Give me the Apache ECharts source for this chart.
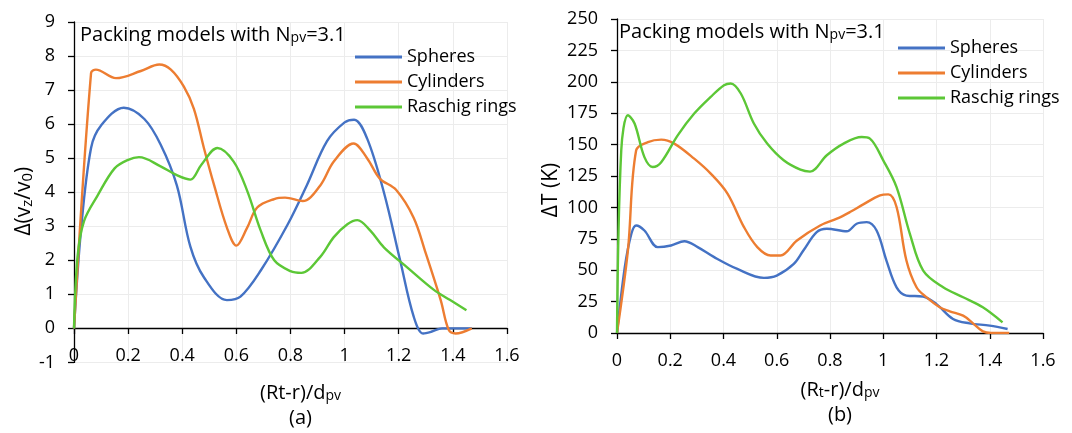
<!DOCTYPE html>
<html>
<head>
<meta charset="utf-8">
<script src="https://cdn.jsdelivr.net/npm/echarts@6/dist/echarts.min.js"></script>
<style>html,body{margin:0;padding:0;background:#fff}#c{width:1072px;height:433px}</style>
</head>
<body>
<div id="c"></div>
<script>
// ---- data: panel (a) Δ(vz/v0) ----
const sphA_x = [0,0.026,0.063,0.1,0.184,0.26,0.32,0.38,0.43,0.48,0.565,0.615,0.69,0.79,0.86,0.935,1.0,1.035,1.083,1.145,1.205,1.255,1.29,1.32,1.36,1.47];
const sphA_y = [0,2.9,5.3,5.96,6.48,6.15,5.4,4.2,2.4,1.5,0.83,0.93,1.7,3.06,4.2,5.5,6.05,6.13,5.58,4.0,2.0,0.35,-0.15,-0.1,0,0];
const cylA_x = [0,0.063,0.081,0.155,0.247,0.315,0.358,0.406,0.443,0.48,0.518,0.565,0.6,0.64,0.677,0.74,0.78,0.845,0.91,0.96,1.033,1.083,1.13,1.19,1.255,1.3,1.355,1.385,1.41,1.47];
const cylA_y = [0,7.5,7.6,7.35,7.56,7.75,7.6,7.1,6.45,5.3,4.2,2.96,2.43,2.96,3.55,3.8,3.84,3.74,4.2,4.9,5.43,5.0,4.4,4.07,3.25,2.2,0.83,-0.05,-0.15,0];
const rasA_x = [0,0.013,0.037,0.087,0.15,0.2,0.24,0.32,0.38,0.43,0.47,0.53,0.59,0.64,0.69,0.74,0.8,0.84,0.91,0.96,1.01,1.047,1.095,1.145,1.23,1.33,1.39,1.45];
const rasA_y = [0,2.1,3.15,3.9,4.7,4.95,5.03,4.76,4.5,4.37,4.8,5.3,4.9,4.04,2.87,2.0,1.68,1.63,2.1,2.68,3.06,3.18,2.87,2.38,1.8,1.13,0.83,0.53];
// ---- data: panel (b) ΔT (K) ----
const sphB_x = [0,0.029,0.054,0.072,0.103,0.153,0.203,0.253,0.303,0.365,0.452,0.552,0.6,0.664,0.7,0.75,0.788,0.863,0.9,0.938,0.975,1.012,1.05,1.087,1.15,1.2,1.262,1.324,1.4,1.467];
const sphB_y = [0,52,79,85.6,81.6,68.4,69.7,73.1,68.4,60.4,51,43.9,45.7,55,65.7,80.3,83,81,87,88.3,81.6,57.7,36.4,29.8,29,23,11.2,7.7,5.9,3.2];
const cylB_x = [0,0.041,0.072,0.116,0.166,0.215,0.29,0.352,0.415,0.477,0.527,0.577,0.614,0.676,0.763,0.826,0.875,0.925,0.988,1.019,1.05,1.087,1.125,1.162,1.212,1.25,1.3,1.337,1.374,1.405,1.473];
const cylB_y = [0,65.7,145.5,152,154,150.8,138.8,126.9,111,84.3,68.4,61.7,61.7,73.7,85.6,91,96.3,102.4,109.6,110.4,100.3,57.7,36.4,28.5,20.5,17.3,13.8,7.7,1.3,0,0];
const rasB_x = [0,0.016,0.041,0.066,0.103,0.134,0.166,0.228,0.29,0.352,0.402,0.427,0.465,0.514,0.564,0.626,0.689,0.725,0.788,0.851,0.919,0.95,1.0,1.05,1.1,1.15,1.225,1.3,1.374,1.448];
const rasB_y = [0,145.5,173.4,166.8,140,132.2,136,157.4,174.7,188,197.3,198.7,190.7,166.8,150.8,137.5,130,128.5,141.5,150.8,156,154.8,137.5,116.2,79,49.7,36.4,28.5,20.5,8.5];

const seriesNames = ['Spheres','Cylinders','Raschig rings'];

const FONT = 'Open Sans';
const COLORS = ['#4472C4','#ED7D31','#5CC736'];
const zip = (xs, ys) => xs.map((x,i) => [x, ys[i]]);

const rich = {
  n: {fontFamily: FONT, fontSize: 20, fontWeight: 'normal', color: '#000', lineHeight: 25, verticalAlign: 'bottom'},
  s: {fontFamily: FONT, fontSize: 14, fontWeight: 'normal', color: '#000', lineHeight: 10, verticalAlign: 'bottom'}
};
const nameStyle = {rich: rich, fontFamily: FONT, fontSize: 20, fontWeight: 'normal', color: '#000', lineHeight: 25};
const richY = {
  n: {fontFamily: FONT, fontSize: 21, fontWeight: 'normal', color: '#000', lineHeight: 26, verticalAlign: 'bottom'},
  s: {fontFamily: FONT, fontSize: 15, fontWeight: 'normal', color: '#000', lineHeight: 10, verticalAlign: 'bottom'}
};
const nameStyleY = {rich: richY, fontFamily: FONT, fontSize: 21, fontWeight: 'normal', color: '#000', lineHeight: 26};

const axisBase = {
  axisLine: {show: true, onZero: false, lineStyle: {color: '#000', width: 1.3}},
  axisTick: {show: true, inside: false, length: 6, lineStyle: {color: '#000', width: 1.3}},
  splitLine: {show: true, lineStyle: {color: '#ececec', width: 1}},
  axisLabel: {color: '#000', fontFamily: FONT, fontSize: 18}
};
function xAx(gi, offset, name, gap){
  return Object.assign({}, axisBase, {type: 'value', gridIndex: gi, min: 0, max: 1.6, interval: 0.2, offset: offset,
    name: name, nameLocation: 'middle', nameGap: gap,
    nameTextStyle: Object.assign({}, nameStyle, {padding: [0, 0, 0, 20], align: 'center'}),
    axisLabel: Object.assign({}, axisBase.axisLabel, {margin: 19, formatter: v => String(+v.toFixed(1))})});
}
function yAx(gi, min, max, interval, name, gap, shift){
  return Object.assign({}, axisBase, {type: 'value', gridIndex: gi, min: min, max: max, interval: interval,
    name: name, nameLocation: 'middle', nameRotate: 90, nameGap: gap,
    nameTextStyle: Object.assign({}, nameStyleY, {padding: [0, shift, 0, 0]}),
    axisLabel: Object.assign({}, axisBase.axisLabel, {margin: 19})});
}
function mk(name, gi, data, ci){
  return {type: 'line', name: name, xAxisIndex: gi, yAxisIndex: gi, data: data, smooth: 0.35,
    showSymbol: false, symbol: 'none', lineStyle: {color: COLORS[ci], width: 2.4}, itemStyle: {color: COLORS[ci]}};
}
const legendBase = {orient: 'vertical', data: seriesNames, icon: 'rect', itemWidth: 47, itemHeight: 3, itemGap: 5, padding: 0,
  textStyle: {fontFamily: FONT, fontSize: 18, color: '#000', lineHeight: 20}};
const titleTxt = '{n|Packing models with N}{s|pv}{n|=3.1}';

const option = {
  animation: false,
  backgroundColor: '#fff',
  title: [
    {text: titleTxt, left: 80, top: 20, padding: 0, textStyle: Object.assign({}, nameStyle)},
    {text: titleTxt, left: 619, top: 17, padding: 0, textStyle: Object.assign({}, nameStyle)}
  ],
  grid: [
    {left: 74, right: 565, top: 22, bottom: 67},
    {left: 617, right: 29, top: 19, bottom: 100}
  ],
  xAxis: [
    xAx(0, -34.4, '{n|(Rt-r)/d}{s|pv}\n{n|(a)}', 50),
    xAx(1, 0, '{n|(R}{s|t}{n|-r)/d}{s|pv}\n{n|(b)}', 41)
  ],
  yAxis: [
    yAx(0, -1, 9, 1, '{n|Δ(v}{s|z}{n|/v}{s|0}{n|)}', 39, 18),
    yAx(1, 0, 250, 25, '{n|ΔT (K)}', 55, 28)
  ],
  legend: [
    Object.assign({}, legendBase, {left: 355, top: 47}),
    Object.assign({}, legendBase, {left: 898, top: 38})
  ],
  series: [
    mk(seriesNames[0], 0, zip(sphA_x, sphA_y), 0),
    mk(seriesNames[1], 0, zip(cylA_x, cylA_y), 1),
    mk(seriesNames[2], 0, zip(rasA_x, rasA_y), 2),
    mk(seriesNames[0], 1, zip(sphB_x, sphB_y), 0),
    mk(seriesNames[1], 1, zip(cylB_x, cylB_y), 1),
    mk(seriesNames[2], 1, zip(rasB_x, rasB_y), 2)
  ]
};
const chart = echarts.init(document.getElementById('c'), null, {renderer: 'canvas'});
chart.setOption(option);
</script>
</body>
</html>
